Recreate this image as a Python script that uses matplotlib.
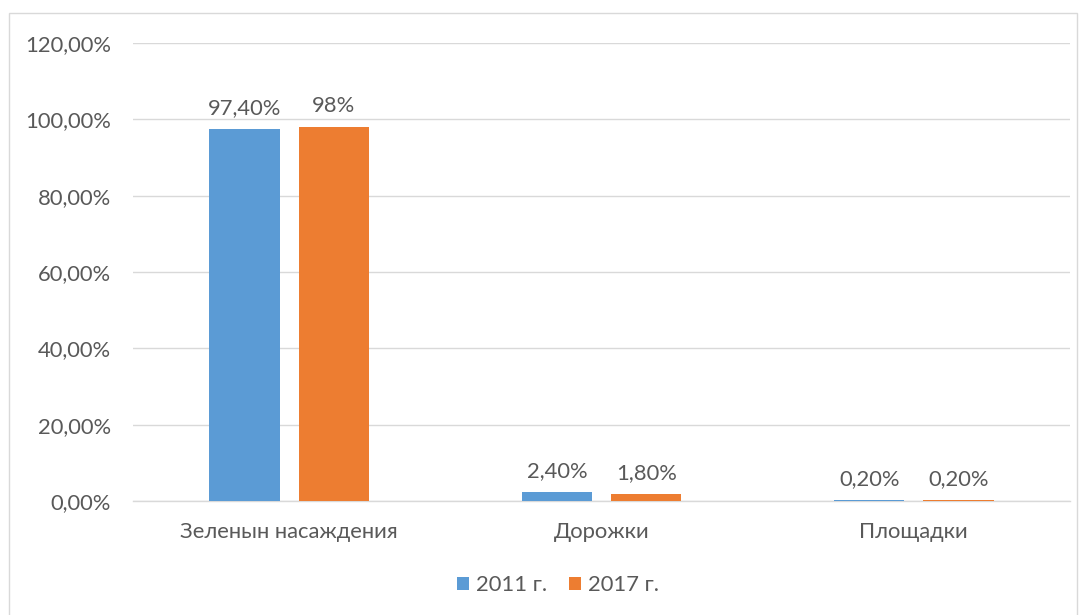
import matplotlib
matplotlib.use("Agg")
import matplotlib.pyplot as plt
import numpy as np
from matplotlib.patches import Rectangle

plt.rcParams['font.family'] = ['Lato', 'DejaVu Sans']

categories = ["Зеленын насаждения", "Дорожки", "Площадки"]
series_names = ["2011 г.", "2017 г."]
values_2011 = [97.4, 2.4, 0.2]
values_2017 = [98.0, 1.8, 0.2]
labels_2011 = ["97,40%", "2,40%", "0,20%"]
labels_2017 = ["98%", "1,80%", "0,20%"]
yticks = [0, 20, 40, 60, 80, 100, 120]
ytick_labels = ["0,00%", "20,00%", "40,00%", "60,00%", "80,00%", "100,00%", "120,00%"]

blue = "#5B9BD5"
orange = "#ED7D31"
text_col = "#595959"
grid_col = "#D9D9D9"
fs = 15.8

W, H = 1083, 615
fig = plt.figure(figsize=(W/100, H/100), dpi=100)
fig.patch.set_facecolor("white")
# chart border
fig.add_artist(Rectangle((9/W, -0.01), (1077-9)/W, 1 - 13/H + 0.01, transform=fig.transFigure,
                         fill=False, edgecolor="#D9D9D9", linewidth=1))

ax = fig.add_axes([133/W, 1 - 501/H, (1070-133)/W, (501-43)/H])
x = np.arange(len(categories))
bw = 0.225
off = 0.143
ax.bar(x - off, values_2011, bw, color=blue, label=series_names[0], zorder=3)
ax.bar(x + off, values_2017, bw, color=orange, label=series_names[1], zorder=3)

for xi, v, l in zip(x - off, values_2011, labels_2011):
    ax.annotate(l, (xi, v), xytext=(0, 8), textcoords="offset points", ha="center", va="bottom",
                fontsize=fs, color=text_col)
for xi, v, l in zip(x + off, values_2017, labels_2017):
    ax.annotate(l, (xi, v), xytext=(0, 8), textcoords="offset points", ha="center", va="bottom",
                fontsize=fs, color=text_col)

ax.set_xlim(-0.5, len(categories) - 0.5)
ax.set_ylim(0, 120)
ax.set_yticks(yticks)
ax.set_yticklabels(ytick_labels, fontsize=fs, color=text_col)
ax.set_xticks(x)
ax.set_xticklabels(categories, fontsize=fs, color=text_col)
ax.tick_params(axis='both', length=0)
ax.tick_params(axis='y', pad=16)
ax.tick_params(axis='x', pad=15)
ax.yaxis.grid(True, color=grid_col, linewidth=1, zorder=0)
for s in ["top", "right", "left"]:
    ax.spines[s].set_visible(False)
ax.spines["bottom"].set_color(grid_col)
ax.spines["bottom"].set_linewidth(1)

fig.legend(loc="center", bbox_to_anchor=(558/W, 1 - 585/H), ncol=2, frameon=False,
           fontsize=fs, labelcolor=text_col, handlelength=0.55, handleheight=0.55,
           handletextpad=0.3, columnspacing=1.0)

fig.savefig("out.png", dpi=100)
